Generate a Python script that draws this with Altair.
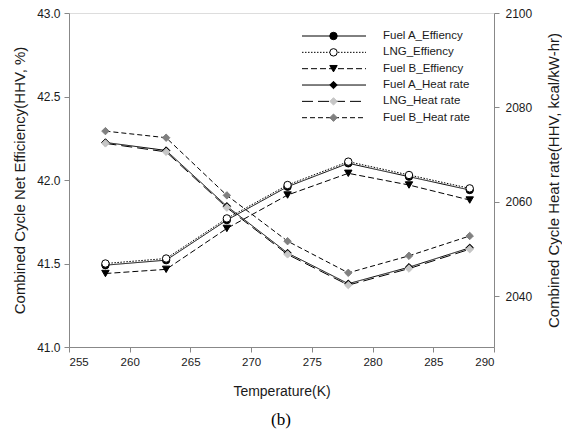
import altair as alt
import pandas as pd

temps = [258, 263, 268, 273, 278, 283, 288]

eff_fuel_a = [41.49, 41.52, 41.76, 41.96, 42.10, 42.02, 41.94]
eff_lng = [41.50, 41.53, 41.77, 41.97, 42.11, 42.03, 41.95]
eff_fuel_b = [41.44, 41.465, 41.71, 41.91, 42.04, 41.97, 41.88]

hr_fuel_a = [2072.6, 2070.9, 2059.1, 2049.2, 2042.7, 2046.2, 2050.3]
hr_lng = [2072.4, 2070.6, 2058.8, 2048.9, 2042.4, 2045.9, 2050.0]
hr_fuel_b = [2075.0, 2073.6, 2061.4, 2051.7, 2045.0, 2048.6, 2052.8]

series_names = ["Fuel A_Effiency", "LNG_Effiency", "Fuel B_Effiency",
                "Fuel A_Heat rate", "LNG_Heat rate", "Fuel B_Heat rate"]
x_ticks = [255, 260, 265, 270, 275, 280, 285, 290]
eff_ticks = [41.0, 41.5, 42.0, 42.5, 43.0]
hr_ticks = [2040, 2060, 2080, 2100]

eff_rows = []
for name, vals in zip(series_names[:3], [eff_fuel_a, eff_lng, eff_fuel_b]):
    for t, v in zip(temps, vals):
        eff_rows.append({"T": t, "value": v, "series": name})
hr_rows = []
for name, vals in zip(series_names[3:], [hr_fuel_a, hr_lng, hr_fuel_b]):
    for t, v in zip(temps, vals):
        hr_rows.append({"T": t, "value": v, "series": name})
df_eff = pd.DataFrame(eff_rows)
df_hr = pd.DataFrame(hr_rows)
df_leg = pd.DataFrame({"series": series_names, "row": list(range(6))})

FONT = "Liberation Sans"
TXT = "#1a1a1a"

dash_scale = alt.Scale(domain=series_names,
                       range=[[1, 0], [1.5, 1.5], [6, 3], [1, 0], [11, 5], [5, 3]])
shape_scale = alt.Scale(domain=series_names,
                        range=["circle", "circle", "triangle-down", "diamond", "diamond", "diamond"])
fill_scale = alt.Scale(domain=series_names,
                       range=["black", "white", "black", "black", "#c6c6c6", "#808080"])
stroke_scale = alt.Scale(domain=series_names,
                         range=["black", "black", "black", "black", "#c6c6c6", "#808080"])
size_scale = alt.Scale(domain=series_names, range=[55, 55, 60, 22, 80, 40])

x_enc = alt.X("T:Q", scale=alt.Scale(domain=[255, 290], nice=False),
              axis=alt.Axis(values=x_ticks, title="Temperature(K)", grid=False,
                            labelFontSize=11.5, titleFontSize=14, labelPadding=4,
                            titlePadding=17, tickSize=5, titleFontWeight="normal",
                            labelFont=FONT, titleFont=FONT,
                            labelColor=TXT, titleColor=TXT))


def group(df, y_enc):
    line = alt.Chart(df).mark_line(color="black", strokeWidth=1).encode(
        x=x_enc, y=y_enc,
        strokeDash=alt.StrokeDash("series:N", scale=dash_scale, legend=None),
        detail="series:N")
    pts = alt.Chart(df).mark_point(filled=True, strokeWidth=1, opacity=1).encode(
        x=x_enc, y=y_enc,
        shape=alt.Shape("series:N", scale=shape_scale, legend=None),
        fill=alt.Fill("series:N", scale=fill_scale, legend=None),
        stroke=alt.Stroke("series:N", scale=stroke_scale, legend=None),
        size=alt.Size("series:N", scale=size_scale, legend=None))
    return alt.layer(line, pts)


eff_y = alt.Y("value:Q", scale=alt.Scale(domain=[41, 43], nice=False, zero=False),
              axis=alt.Axis(values=eff_ticks, format=".1f", orient="left", grid=False,
                            title="Combined Cycle Net Efficiency(HHV, %)",
                            labelFontSize=12, titleFontSize=15, tickSize=5,
                            labelPadding=4, titlePadding=9, titleFontWeight="normal",
                            labelFont=FONT, titleFont=FONT,
                            labelColor=TXT, titleColor=TXT))
hr_y = alt.Y("value:Q", scale=alt.Scale(domain=[2029.3, 2100], nice=False, zero=False),
             axis=alt.Axis(values=hr_ticks, format="d", orient="right", grid=False,
                           title="Combined Cycle Heat rate(HHV,  kcal/kW-hr)",
                           titleAngle=270, titleBaseline="top",
                           labelFontSize=12, titleFontSize=15, tickSize=5,
                           labelPadding=6, titlePadding=15, titleFontWeight="normal",
                           labelFont=FONT, titleFont=FONT,
                           labelColor=TXT, titleColor=TXT))

eff_group = group(df_eff, eff_y)
hr_group = group(df_hr, hr_y)

leg_y = alt.Y("row:Q", scale=alt.Scale(domain=[0, 5], range=[23, 104.7]), axis=None)
leg_rule = alt.Chart(df_leg).mark_rule(color="black", strokeWidth=1).encode(
    x=alt.value(233), x2=alt.value(297), y=leg_y,
    strokeDash=alt.StrokeDash("series:N", scale=dash_scale, legend=None))
leg_pts = alt.Chart(df_leg).mark_point(filled=True, strokeWidth=1, opacity=1).encode(
    x=alt.value(264.5), y=leg_y,
    shape=alt.Shape("series:N", scale=shape_scale, legend=None),
    fill=alt.Fill("series:N", scale=fill_scale, legend=None),
    stroke=alt.Stroke("series:N", scale=stroke_scale, legend=None),
    size=alt.Size("series:N", scale=size_scale, legend=None))
leg_txt = alt.Chart(df_leg).mark_text(align="left", baseline="middle", font=FONT,
                                      fontSize=11.5, color=TXT).encode(
    x=alt.value(314), y=leg_y, text="series:N")
caption = alt.Chart(pd.DataFrame({"c": ["(b)"]})).mark_text(
    font="Liberation Serif", fontSize=17, color="black", align="center",
    baseline="middle").encode(x=alt.value(212), y=alt.value(407), text="c:N")
leg_group = alt.layer(leg_rule, leg_pts, leg_txt, caption)

chart = alt.layer(eff_group, hr_group, leg_group).resolve_scale(
    y="independent"
).properties(
    width=425, height=334,
    padding={"left": 69, "top": 13, "right": 68, "bottom": 83},
    autosize=alt.AutoSizeParams(type="none"),
).configure_view(stroke="black", strokeWidth=1).configure_axis(
    domainColor="black", tickColor="black", domainWidth=1, tickWidth=1
).configure(background="white")

chart.save("out.html", embed_options={"renderer": "svg", "actions": False})
